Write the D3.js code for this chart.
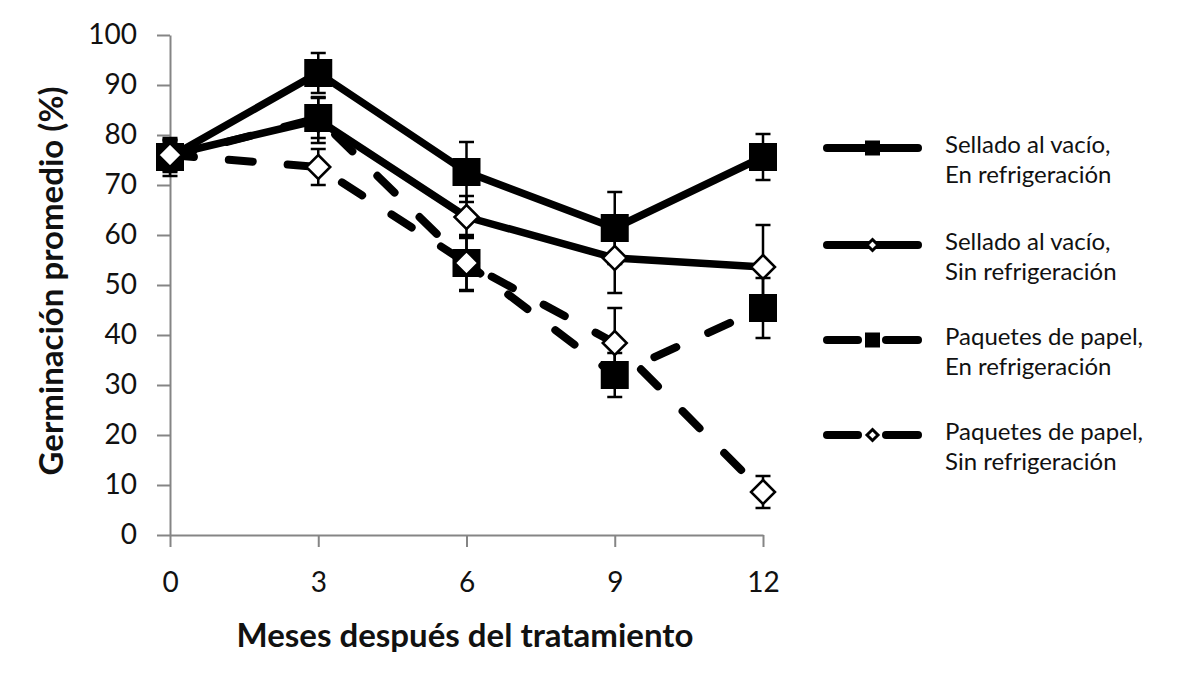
<!DOCTYPE html>
<html>
<head>
<meta charset="utf-8">
<script src="https://cdn.jsdelivr.net/npm/d3@7"></script>
<style>
  body { margin: 0; background: #fff; }
  text { font-family: Lato, "Open Sans", sans-serif; fill: #111; }
</style>
</head>
<body>
<svg id="chart" width="1200" height="680"></svg>
<script>
// meses después del tratamiento
const months = [0, 3, 6, 9, 12];
const yTicks = [0, 10, 20, 30, 40, 50, 60, 70, 80, 90, 100];

// germinación promedio (%) y error de cada tratamiento
const selladoRefri = [75.6, 92.4, 72.6, 61.4, 75.6];
const selladoRefriErr = [3.8, 4.0, 6.0, 7.2, 4.6];
const selladoSin = [76, 83, 63.6, 55.4, 53.6];
const selladoSinErr = [3, 4.6, 4.2, 7.0, 8.4];
const papelRefri = [75.6, 83.4, 54.4, 32, 45.4];
const papelRefriErr = [3, 4, 5.6, 4.4, 6.0];
const papelSin = [76, 73.6, 54.4, 38.4, 8.6];
const papelSinErr = [3, 3.6, 5.4, 7.0, 3.2];

const legendLabels = [
  ["Sellado al vacío,", "En refrigeración"],
  ["Sellado al vacío,", "Sin refrigeración"],
  ["Paquetes de papel,", "En refrigeración"],
  ["Paquetes de papel,", "Sin refrigeración"]
];

const series = [
  { values: selladoRefri, err: selladoRefriErr, dashed: false, marker: "square", label: legendLabels[0] },
  { values: selladoSin, err: selladoSinErr, dashed: false, marker: "diamond", label: legendLabels[1] },
  { values: papelRefri, err: papelRefriErr, dashed: true, marker: "square", label: legendLabels[2] },
  { values: papelSin, err: papelSinErr, dashed: true, marker: "diamond", label: legendLabels[3] }
];

const svg = d3.select("#chart");
const axisColor = "#858585";

const x = d3.scaleLinear().domain([0, 12]).range([170, 763]);
const y = d3.scaleLinear().domain([0, 100]).range([535, 35]);

// ejes
const yAxis = svg.append("g")
  .attr("transform", "translate(" + x(0) + ",0)")
  .call(d3.axisLeft(y).tickValues(yTicks).tickSize(13).tickSizeOuter(0).tickPadding(20));

const xAxis = svg.append("g")
  .attr("transform", "translate(0," + y(0) + ")")
  .call(d3.axisBottom(x).tickValues(months).tickSize(12).tickSizeOuter(0).tickPadding(25));

[yAxis, xAxis].forEach(function (ax) {
  ax.selectAll("path, line").attr("stroke", axisColor).attr("stroke-width", 2);
  ax.selectAll("text").style("font-size", "28px").attr("fill", "#111");
});

svg.append("text")
  .attr("transform", "translate(63,281) rotate(-90)")
  .attr("text-anchor", "middle")
  .style("font-size", "33px")
  .style("font-weight", "bold")
  .text("Germinación promedio (%)");

svg.append("text")
  .attr("x", 465)
  .attr("y", 647)
  .attr("text-anchor", "middle")
  .style("font-size", "33px")
  .style("font-weight", "bold")
  .text("Meses después del tratamiento");

const line = d3.line()
  .x(function (d, i) { return x(months[i]); })
  .y(function (d) { return y(d); });

function drawMarker(g, type, cx, cy, size) {
  if (type === "square") {
    g.append("rect")
      .attr("x", cx - size / 2).attr("y", cy - size / 2)
      .attr("width", size).attr("height", size)
      .attr("fill", "#000");
  } else {
    const r = size / 2;
    g.append("path")
      .attr("d", "M" + cx + "," + (cy - r) + "L" + (cx + r) + "," + cy + "L" + cx + "," + (cy + r) + "L" + (cx - r) + "," + cy + "Z")
      .attr("fill", "#fff")
      .attr("stroke", "#000")
      .attr("stroke-width", size > 15 ? 2.5 : 3);
  }
}

const plot = svg.append("g");

series.forEach(function (s) {
  const g = plot.append("g");

  // barras de error
  s.values.forEach(function (v, i) {
    const cx = x(months[i]);
    const top = y(v + s.err[i]);
    const bot = y(v - s.err[i]);
    g.append("line").attr("x1", cx).attr("x2", cx).attr("y1", top).attr("y2", bot)
      .attr("stroke", "#000").attr("stroke-width", 2.5);
    [top, bot].forEach(function (yy) {
      g.append("line").attr("x1", cx - 7.5).attr("x2", cx + 7.5).attr("y1", yy).attr("y2", yy)
        .attr("stroke", "#000").attr("stroke-width", 2.5);
    });
  });

  g.append("path")
    .datum(s.values)
    .attr("d", line)
    .attr("fill", "none")
    .attr("stroke", "#000")
    .attr("stroke-width", s.dashed ? 8 : 7.5)
    .attr("stroke-linejoin", "round")
    .attr("stroke-linecap", "round")
    .attr("stroke-dasharray", s.dashed ? "24,35" : null);

  s.values.forEach(function (v, i) {
    drawMarker(g, s.marker, x(months[i]), y(v), s.marker === "square" ? 28 : 24);
  });
});

// leyenda
const legendY = [148, 245, 340, 435];
series.forEach(function (s, i) {
  const ly = legendY[i];
  const g = svg.append("g");
  if (s.dashed) {
    [[827, 858], [886, 918]].forEach(function (seg) {
      g.append("line").attr("x1", seg[0]).attr("x2", seg[1]).attr("y1", ly).attr("y2", ly)
        .attr("stroke", "#000").attr("stroke-width", 8).attr("stroke-linecap", "round");
    });
  } else {
    g.append("line").attr("x1", 827).attr("x2", 918).attr("y1", ly).attr("y2", ly)
      .attr("stroke", "#000").attr("stroke-width", 8).attr("stroke-linecap", "round");
  }
  drawMarker(g, s.marker, 872.5, ly, s.marker === "square" ? 15 : 11);

  const t = g.append("text").attr("x", 945).attr("y", ly + 5).style("font-size", "24px");
  t.append("tspan").attr("x", 945).text(s.label[0]);
  t.append("tspan").attr("x", 945).attr("dy", 30).text(s.label[1]);
});
</script>
</body>
</html>
